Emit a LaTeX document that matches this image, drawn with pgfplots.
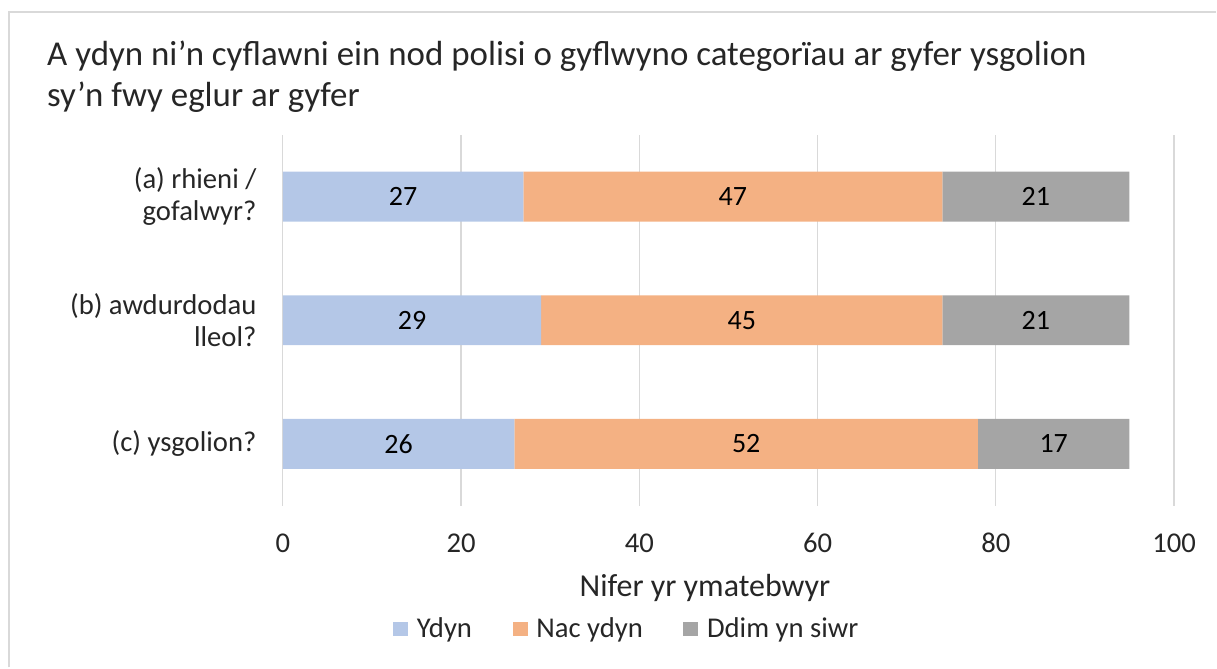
\documentclass[border=0pt]{standalone}
\usepackage{pgfplots}
\pgfplotsset{compat=1.18}
\usepackage{pgfplotstable}
\usepackage{fontspec}
\setmainfont{Carlito}
\definecolor{cY}{HTML}{B4C7E7}
\definecolor{cN}{HTML}{F4B183}
\definecolor{cD}{HTML}{A5A5A5}
\definecolor{gridc}{HTML}{D9D9D9}
\definecolor{txt}{HTML}{262626}
\pgfplotstableread{
pos Y N D
2 27 47 21
1 29 45 21
0 26 52 17
}\mytab
% label positions: middle of each segment
\pgfplotstableread{
pos mx v
2 13.5 27
2 50.5 47
2 84.5 21
1 14.5 29
1 51.5 45
1 84.5 21
0 13.0 26
0 52.0 52
0 86.5 17
}\labtab
\begin{document}
\begin{tikzpicture}
\path (0,0) rectangle (912.75pt,501pt);
\draw[gridc, line width=1.5pt] (6.75pt,0) -- (6.75pt,492pt) -- (912.75pt,492pt);
\node[anchor=base west, inner sep=0, text=txt, font=\fontsize{26.2}{30}\selectfont] at (35.25pt,451.875pt) {A ydyn ni’n cyflawni ein nod polisi o gyflwyno categorïau ar gyfer ysgolion};
\node[anchor=base west, inner sep=0, text=txt, font=\fontsize{26.2}{30}\selectfont] at (35.25pt,421.1pt) {sy’n fwy eglur ar gyfer};
\begin{axis}[
  at={(212.25pt,121.5pt)}, anchor=south west,
  scale only axis, width=669pt, height=278.25pt,
  xbar stacked, bar width=37.5pt,
  xmin=0, xmax=100, ymin=-0.5, ymax=2.5,
  xtick={0,20,...,100}, ytick={0,1,2},
  xticklabels={0,20,40,60,80,100},
  yticklabels={{(c) ysgolion?},{(b) awdurdodau\\lleol?},{(a) rhieni /\\gofalwyr?}},
  axis line style={draw=none}, major tick length=0pt,
  xmajorgrids, grid style={gridc, line width=0.9pt},
  ticklabel style={font=\fontsize{21.5}{24}\selectfont, text=txt},
  xticklabel style={anchor=base, yshift=-35pt},
  yticklabel style={align=right, anchor=east, xshift=-16.25pt},
  xlabel={Nifer yr ymatebwyr},
  xlabel style={at={(0.4737,-0.2453)}, anchor=base, font=\fontsize{24}{28}\selectfont, text=txt},
  legend style={at={(0.3860,-0.333)}, anchor=center, draw=none, fill=none, legend columns=-1,
     font=\fontsize{21.5}{24}\selectfont, text=txt, nodes={inner sep=1.5pt},
     /tikz/every odd column/.append style={column sep=5pt},
     /tikz/every even column/.append style={column sep=29pt}},
  legend image code/.code={\fill[#1] (0pt,-5.6pt) rectangle (11.25pt,5.65pt);},
]
\addplot[fill=cY, draw=none] table[x=Y, y=pos] {\mytab};
\addplot[fill=cN, draw=none] table[x=N, y=pos] {\mytab};
\addplot[fill=cD, draw=none] table[x=D, y=pos] {\mytab};
\legend{Ydyn, Nac ydyn, Ddim yn siwr}
\end{axis}
\begin{axis}[
  at={(212.25pt,121.5pt)}, anchor=south west,
  scale only axis, width=669pt, height=278.25pt,
  xmin=0, xmax=100, ymin=-0.5, ymax=2.5, hide axis,
]
\addplot[only marks, mark=none, point meta=explicit symbolic, nodes near coords,
  nodes near coords style={anchor=center, font=\fontsize{21}{24}\selectfont, text=black}]
  table[x=mx, y=pos, meta=v] {\labtab};
\end{axis}
\end{tikzpicture}
\end{document}
